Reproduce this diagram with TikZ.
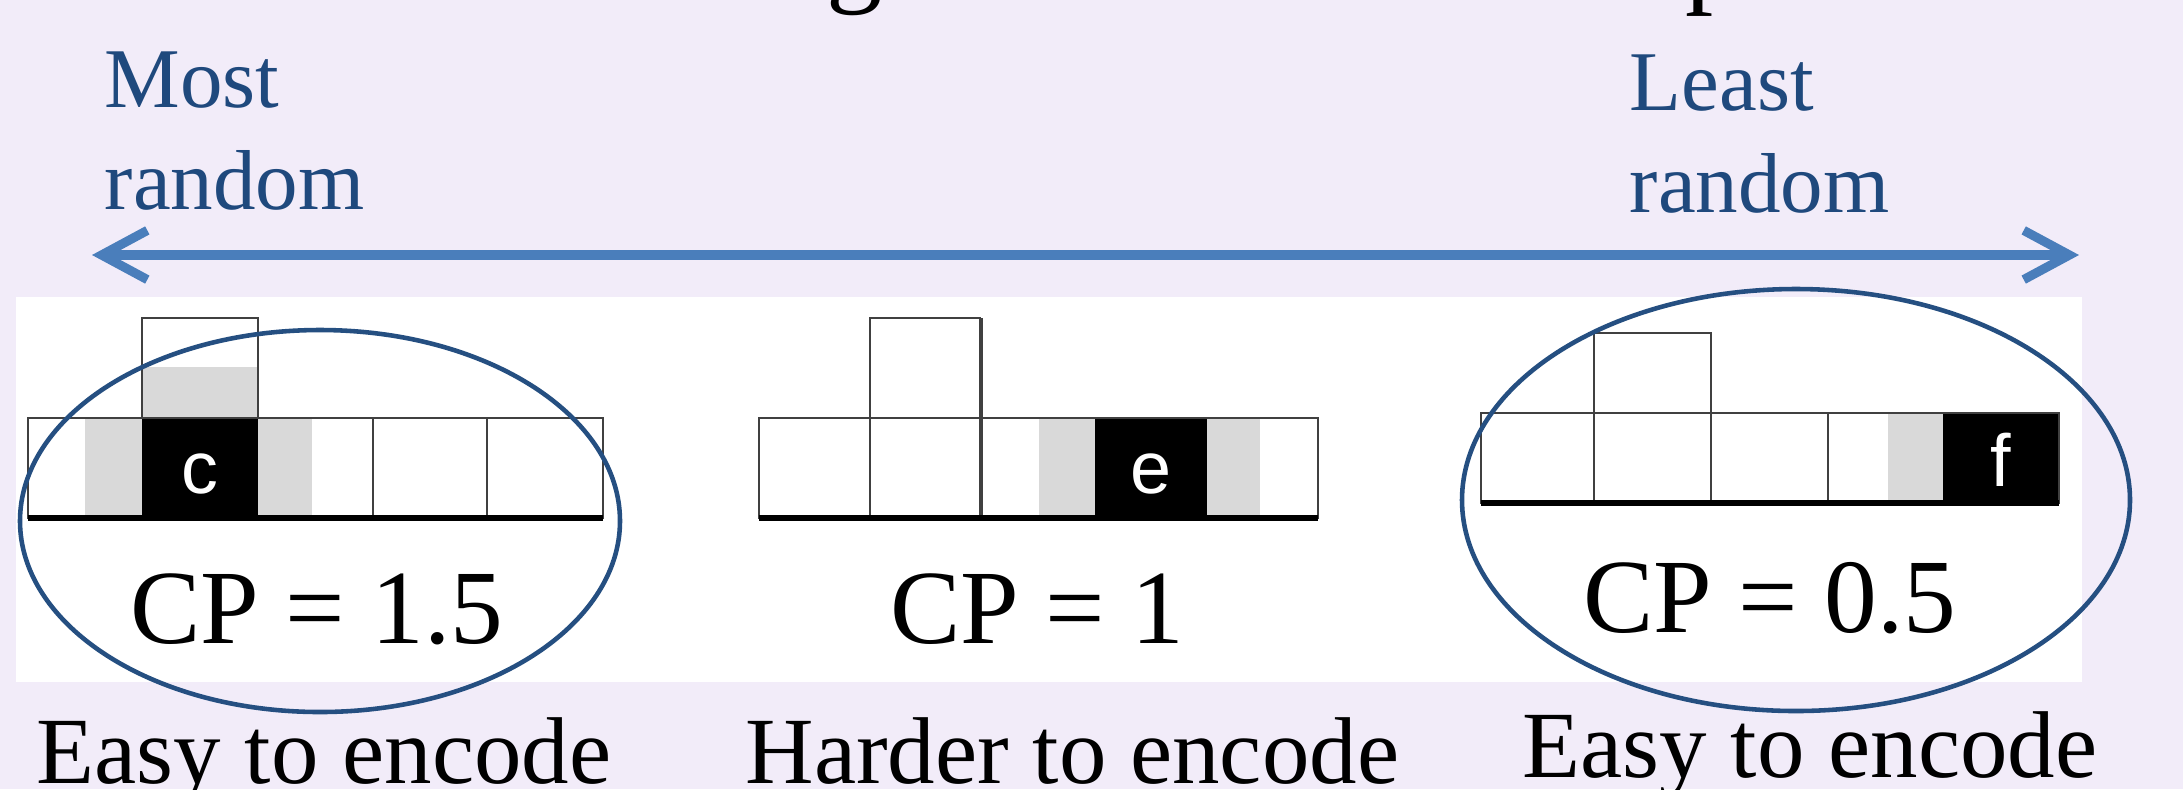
\documentclass[tikz,border=0pt]{standalone}
\usepackage{fontspec}
\setmainfont{Liberation Serif}
\newfontfamily\cellfont{Liberation Sans}
\usepackage{tikz}
\usetikzlibrary{arrows.meta}
\definecolor{slideBg}{HTML}{F2ECF9}
\definecolor{textBlue}{HTML}{1F497D}
\definecolor{axisBlue}{HTML}{4A7EBB}
\definecolor{ringBlue}{HTML}{254F81}

\begin{document}
\begin{tikzpicture}[
  x=0.1mm, y=-0.1mm,
  cell/.style={draw=black!75, line width=0.8pt},
  floor/.style={draw=black, line width=1.7pt},
  shade/.style={fill=black!15},
  hitcell/.style={fill=black},
  letter/.style={text=white, font=\cellfont\fontsize{21}{21}\selectfont, inner sep=0pt},
  ring/.style={draw=ringBlue, line width=1.3pt},
  axis/.style={draw=axisBlue, line width=2.6pt,
               {Straight Barb[length=13pt, width=14pt]}-{Straight Barb[length=13pt, width=14pt]}},
  endtext/.style={font=\fontsize{24.2}{29}\selectfont, text=textBlue, anchor=base west, inner sep=0pt},
  cplabel/.style={font=\fontsize{30}{30}\selectfont, anchor=base, inner sep=0pt},
  caption/.style={font=\fontsize{27}{27}\selectfont, anchor=base west, inner sep=0pt},
  titletext/.style={font=\fontsize{32}{32}\selectfont, anchor=base west, inner sep=0pt}
]
\useasboundingbox (0,0) rectangle (2183,789);
\clip (0,0) rectangle (2183,789);
\fill[slideBg] (0,0) rectangle (2183,789);

% title above, only its descenders are left
\node[titletext] (titleg) at (826,-9) {g};
\node[titletext] (titlep) at (1685,-8) {p};

% pasted figure
\fill[white] (16,297) rectangle (2082,682);

% left: CP = 1.5
\fill[shade] (85,418) rectangle (142,518);
\fill[shade] (258,418) rectangle (312,518);
\fill[shade] (142,367) rectangle (258,418);
\fill[hitcell] (142,418) rectangle (258,518);
\draw[cell] (28,418) rectangle (603,518);
\foreach \x in {373,487} \draw[cell] (\x,418) -- (\x,518);
\draw[cell] (142,418) -- (142,318) -- (258,318) -- (258,418);
\draw[floor] (28,518) -- (603,518);
\node[letter] (cellc) at (200,474) {c};
\node[cplabel] (cpleft) at (317,643) {CP = 1.5};

% middle: CP = 1
\fill[shade] (1039,418) rectangle (1095,518);
\fill[shade] (1207,418) rectangle (1260,518);
\fill[hitcell] (1095,418) rectangle (1207,518);
\draw[cell] (759,418) rectangle (1318,518);
\draw[cell] (870,518) -- (870,318) -- (981,318);
\draw[cell, line width=1.2pt] (981,318) -- (981,518);
\draw[floor] (759,518) -- (1318,518);
\node[letter] (celle) at (1151,474) {e};
\node[cplabel] (cpmid) at (1037,643) {CP = 1};

% right: CP = 0.5
\fill[shade] (1888,413) rectangle (1943,503);
\fill[hitcell] (1943,413) rectangle (2059,503);
\draw[cell] (1481,413) rectangle (2059,503);
\foreach \x in {1711,1828} \draw[cell] (\x,413) -- (\x,503);
\draw[cell] (1594,503) -- (1594,333) -- (1711,333) -- (1711,413);
\draw[floor] (1481,503) -- (2059,503);
\node[letter] (cellf) at (2001,460) {f};
\node[cplabel] (cpright) at (1770,632) {CP = 0.5};

% rings round the easy ones
\draw[ring] (320,521) ellipse [x radius=300, y radius=191];
\draw[ring] (1796,500) ellipse [x radius=334, y radius=211];

% randomness axis
\coordinate (aleft) at (92,255);
\coordinate (aright) at (2079,255);
\draw[axis] (aleft) -- (aright);
\node[endtext] (most) at (104,107) {Most};
\node[endtext] (mostlow) at (104,209) {random};
\node[endtext] (least) at (1629,110) {Least};
\node[endtext] (leastlow) at (1629,212) {random};

% captions
\node[caption] (capleft) at (36,783) {Easy to encode};
\node[caption] (capmid) at (745,783) {Harder to encode};
\node[caption] (capright) at (1522,777) {Easy to encode};
\end{tikzpicture}
\end{document}
